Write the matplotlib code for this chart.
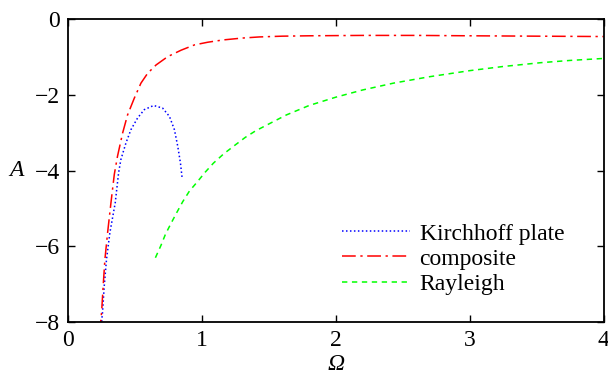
import matplotlib
matplotlib.use('Agg')
import matplotlib.pyplot as plt

# values
omega_kirchhoff = [0.245, 0.252, 0.257, 0.27, 0.287, 0.312, 0.352, 0.377, 0.394, 0.432, 0.469,
                   0.519, 0.569, 0.639, 0.706, 0.757, 0.794, 0.819, 0.839, 0.852]
a_kirchhoff = [-8.3, -7.92, -7.75, -7.04, -6.34, -5.64, -4.85, -4.06, -3.71, -3.27, -2.92,
               -2.61, -2.39, -2.28, -2.35, -2.57, -2.92, -3.36, -3.80, -4.21]

omega_composite = [0.238, 0.245, 0.25, 0.262, 0.275, 0.295, 0.32, 0.345, 0.369, 0.407, 0.444,
                   0.494, 0.544, 0.594, 0.657, 0.744, 0.844, 0.944, 1.043, 1.156, 1.3,
                   1.43, 1.6, 1.8, 2.2, 2.6, 3.0, 3.5, 4.0]
a_composite = [-8.3, -7.92, -7.75, -7.04, -6.34, -5.64, -4.85, -4.1, -3.62, -3.01, -2.53,
               -2.09, -1.69, -1.43, -1.21, -0.99, -0.82, -0.68, -0.61, -0.55, -0.5,
               -0.47, -0.45, -0.44, -0.43, -0.43, -0.44, -0.45, -0.46]

omega_rayleigh = [0.652, 0.694, 0.727, 0.769, 0.811, 0.856, 0.906, 0.964, 1.024, 1.086, 1.161,
                  1.249, 1.324, 1.40, 1.52, 1.63, 1.8, 2.0, 2.2, 2.43, 2.7, 3.0, 3.25, 3.53,
                  3.75, 3.99]
a_rayleigh = [-6.30, -5.97, -5.68, -5.39, -5.11, -4.82, -4.54, -4.30, -4.04, -3.80, -3.56,
              -3.32, -3.12, -2.95, -2.73, -2.53, -2.28, -2.06, -1.87, -1.69, -1.52, -1.36,
              -1.25, -1.15, -1.09, -1.04]

plt.rcParams['font.family'] = ['Liberation Serif', 'DejaVu Serif']
plt.rcParams['font.size'] = 17

fig = plt.figure(figsize=(6.08, 3.75), dpi=100)
ax = fig.add_axes([0.112, 0.141, 0.881, 0.808])

ax.plot(omega_kirchhoff, a_kirchhoff, color='blue', linestyle=(0, (1, 1.6)), lw=1.1, label='Kirchhoff plate')
ax.plot(omega_composite, a_composite, color='red', linestyle=(0, (9, 3, 1.5, 3)), lw=1.1, label='composite')
ax.plot(omega_rayleigh, a_rayleigh, color='#00ff00', linestyle=(0, (3.5, 3)), lw=1.1, label='Rayleigh')

ax.set_xlim(0, 4)
ax.set_ylim(-8, 0)
ax.set_xticks([0, 1, 2, 3, 4])
ax.set_yticks([-8, -6, -4, -2, 0])
ax.tick_params(direction='in', top=True, right=True, length=5, width=1, pad=6)
for s in ax.spines.values():
    s.set_linewidth(1.3)

ax.set_xlabel('Ω', fontstyle='italic', va='top')
ax.xaxis.set_label_coords(0.5, -0.105)
ax.set_ylabel('A', fontstyle='italic', rotation=0, va='center', ha='center')
ax.yaxis.set_label_coords(-0.097, 0.5)

ax.legend(loc='upper left', bbox_to_anchor=(0.562, 0.405), bbox_transform=fig.transFigure,
          frameon=False, borderpad=0, borderaxespad=0, handlelength=2.9,
          handletextpad=0.4, labelspacing=0.15)

fig.savefig('out.png', dpi=100)
